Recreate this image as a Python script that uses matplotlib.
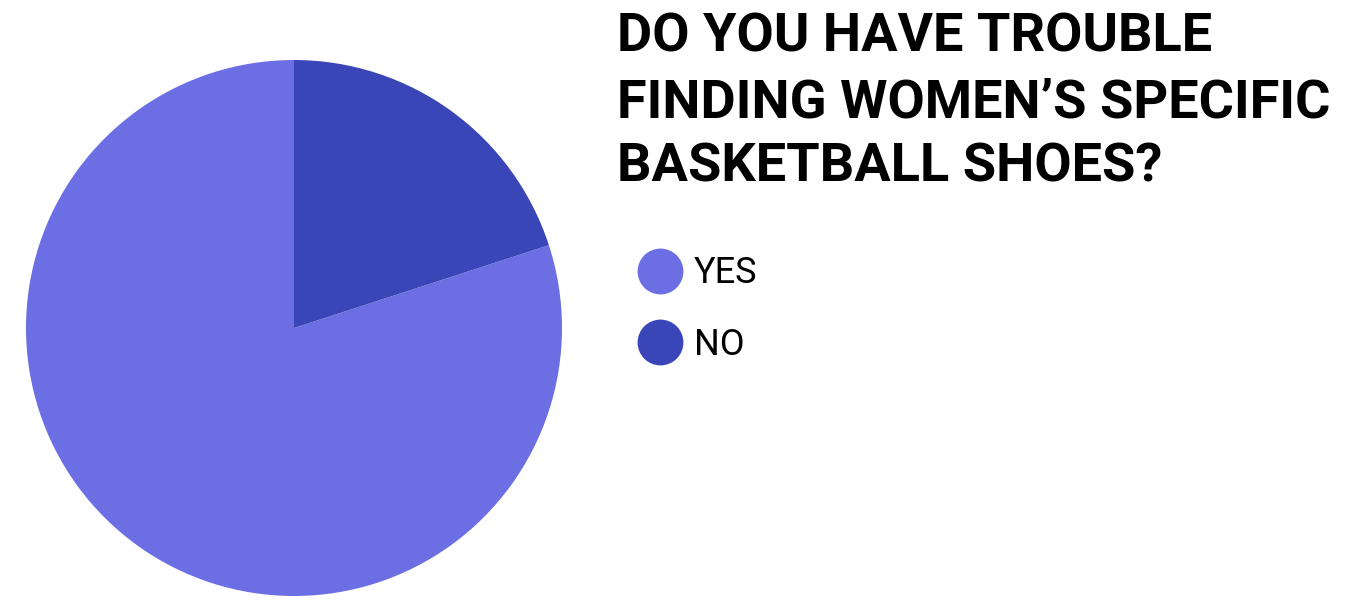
import matplotlib.pyplot as plt
from matplotlib.lines import Line2D

labels = ['YES', 'NO']
values = [80, 20]
colors = ['#6c6ee4', '#3a46b8']
title = "DO YOU HAVE TROUBLE\nFINDING WOMEN’S SPECIFIC\nBASKETBALL SHOES?"

fig = plt.figure(figsize=(13.58, 6), dpi=100)

# pie on the left
ax = fig.add_axes([26 / 1358, 4 / 600, 536 / 1358, 536 / 600])
ax.pie(values, colors=colors, startangle=90, counterclock=True,
       wedgeprops=dict(linewidth=0))
ax.set_xlim(-1, 1)
ax.set_ylim(-1, 1)
ax.set_aspect('equal')

# title on the right
fig.text(617 / 1358, 1 - 182 / 600, title, ha='left', va='baseline',
         fontsize=39, fontweight='bold', family='Roboto', linespacing=1.35)

handles = [Line2D([], [], marker='o', linestyle='none', markersize=33,
                  markerfacecolor=c, markeredgewidth=0) for c in colors]
fig.legend(handles, labels, loc='upper left', bbox_to_anchor=(600 / 1358, 1 - 223 / 600),
           frameon=False, labelspacing=0.98, handletextpad=0.2, handlelength=1.5,
           prop={'family': 'Roboto', 'weight': 'normal', 'size': 26})

fig.savefig('out.png', dpi=100)
